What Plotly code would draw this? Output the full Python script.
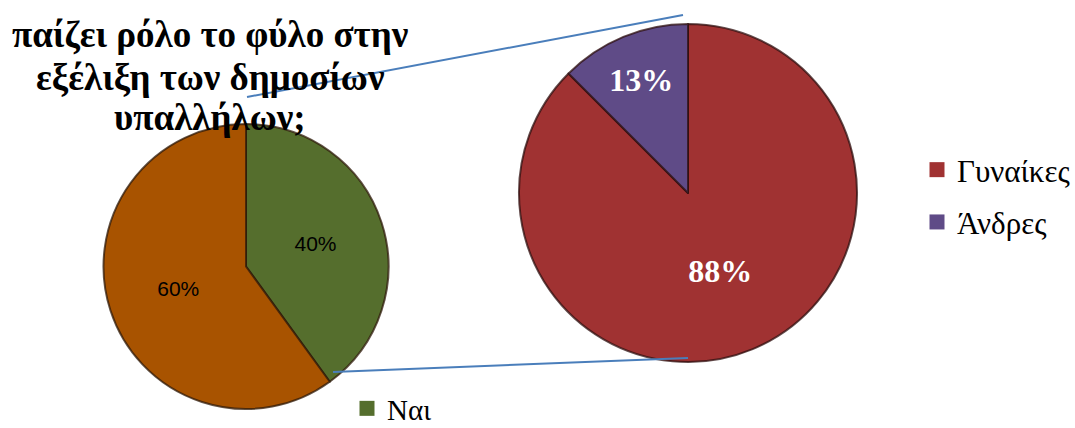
import plotly.graph_objects as go

# ---- data ----
main_labels = ["Ναι", "Όχι"]
main_values = [40, 60]
main_colors = ["#556E2D", "#A85300"]

sub_labels = ["Γυναίκες", "Άνδρες"]
sub_values = [87.5, 12.5]
sub_colors = ["#A03232", "#5F4B87"]

title_lines = ["παίζει ρόλο το φύλο στην", "εξέλιξη των δημοσίων", "υπαλλήλων;"]

W, H = 1075, 428
SERIF = "Liberation Serif, DejaVu Serif, serif"

fig = go.Figure()

fig.add_trace(go.Pie(
    labels=main_labels, values=main_values, sort=False, direction="clockwise",
    marker=dict(colors=main_colors, line=dict(color="rgba(45,25,10,0.75)", width=2)),
    texttemplate="%{percent:.0%}", textposition="inside", insidetextorientation="horizontal",
    textfont=dict(family="Liberation Sans", size=21, color="black"),
    domain=dict(x=[102 / W, 390 / W], y=[1 - 409 / H, 1 - 124 / H]),
    showlegend=False, hoverinfo="label+percent",
))

fig.add_trace(go.Pie(
    labels=sub_labels, values=sub_values, sort=False, direction="clockwise",
    marker=dict(colors=sub_colors, line=dict(color="rgba(45,15,15,0.75)", width=2)),
    texttemplate="%{percent:.0%}", textposition="inside", insidetextorientation="horizontal",
    textfont=dict(family=SERIF, size=32, color="white", weight="bold"),
    domain=dict(x=[519 / W, 857 / W], y=[1 - 362 / H, 1 - 24 / H]),
    showlegend=False, hoverinfo="label+percent",
))

# legend entries (only "Ναι" on the bottom legend, sub-pie labels on the right)
fig.add_trace(go.Scatter(
    x=[None], y=[None], mode="markers", name=main_labels[0],
    marker=dict(symbol="square", size=15, color=main_colors[0]),
    legend="legend", legendgroup="a",
))
for lab, col in zip(sub_labels, sub_colors):
    fig.add_trace(go.Scatter(
        x=[None], y=[None], mode="markers", name=lab,
        marker=dict(symbol="square", size=15, color=col),
        legend="legend2", legendgroup=lab,
    ))

# connector lines between the two pies
line_style = dict(color="#4A7EBB", width=2)
fig.add_shape(type="line", xref="paper", yref="paper",
              x0=247 / W, y0=1 - 97 / H, x1=683 / W, y1=1 - 15 / H, line=line_style)
fig.add_shape(type="line", xref="paper", yref="paper",
              x0=333 / W, y0=1 - 372 / H, x1=688 / W, y1=1 - 358 / H, line=line_style)

title_y = [35, 77, 118]
for txt, yy in zip(title_lines, title_y):
    fig.add_annotation(
        text=txt, xref="paper", yref="paper",
        x=210 / W, y=1 - yy / H, xanchor="center", yanchor="middle", showarrow=False,
        font=dict(family=SERIF, size=37, color="black", weight="bold"),
    )

fig.update_layout(
    width=W, height=H,
    margin=dict(l=0, r=0, t=0, b=0, autoexpand=False),
    paper_bgcolor="white", plot_bgcolor="white",
    xaxis=dict(visible=False), yaxis=dict(visible=False),
    legend=dict(x=347 / W, y=1 - 383 / H, xanchor="left", yanchor="top",
                font=dict(family=SERIF, size=29, color="black"),
                bgcolor="rgba(0,0,0,0)"),
    legend2=dict(x=917 / W, y=1 - 143 / H, xanchor="left", yanchor="top",
                 font=dict(family=SERIF, size=31, color="black"),
                 tracegroupgap=9, bgcolor="rgba(0,0,0,0)"),
)

fig.write_html("out.html", config={"displayModeBar": False},
               post_script="document.body.style.margin='0';document.body.style.overflow='hidden';")
